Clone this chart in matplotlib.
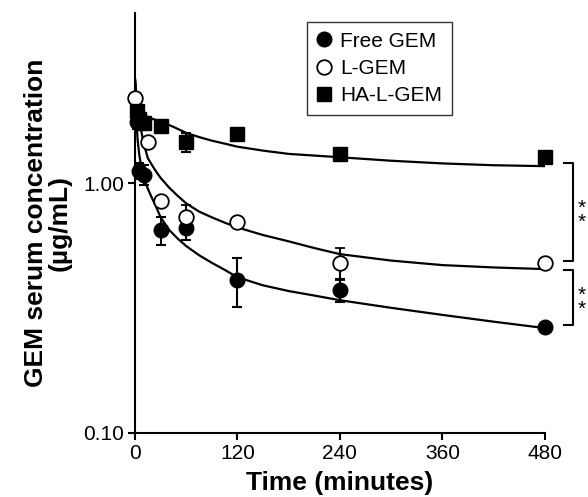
import numpy as np
import matplotlib

matplotlib.use("Agg")
import matplotlib.pyplot as plt
from matplotlib.ticker import FixedLocator, NullLocator

plt.rcParams["font.family"] = ["Liberation Sans", "DejaVu Sans"]

# measured points (mean, error)
time_free = [2, 5, 10, 30, 60, 120, 240, 480]
conc_free = [1.75, 1.12, 1.08, 0.65, 0.66, 0.41, 0.375, 0.265]
err_free = [0.1, 0.08, 0.1, 0.085, 0.07, 0.09, 0.04, 0.0]

time_lgem = [0, 15, 30, 60, 120, 240, 480]
conc_lgem = [2.2, 1.46, 0.85, 0.73, 0.70, 0.48, 0.48]
err_lgem = [0.0, 0.0, 0.0, 0.09, 0.0, 0.07, 0.0]

time_ha = [2, 5, 10, 30, 60, 120, 240, 480]
conc_ha = [1.95, 1.8, 1.74, 1.70, 1.46, 1.57, 1.31, 1.27]
err_ha = [0.1, 0.1, 0.1, 0.06, 0.13, 0.0, 0.06, 0.0]

# fitted curves
fit_time = [0, 1, 2, 3, 5, 7, 10, 15, 20, 25, 30, 40, 50, 60, 75, 90, 105, 120,
            150, 180, 210, 240, 300, 360, 420, 480]
fit_free = [2.6, 2.05, 1.7, 1.5, 1.3, 1.18, 1.06, 0.95, 0.87, 0.8, 0.73, 0.65,
            0.6, 0.56, 0.515, 0.48, 0.45, 0.42, 0.39, 0.37, 0.355, 0.34,
            0.317, 0.297, 0.279, 0.263]
fit_lgem = [2.6, 2.4, 2.2, 2.05, 1.8, 1.64, 1.45, 1.26, 1.18, 1.11, 1.05, 0.96,
            0.89, 0.83, 0.77, 0.73, 0.695, 0.665, 0.62, 0.585, 0.55, 0.52,
            0.49, 0.47, 0.46, 0.453]
fit_ha = [2.6, 2.35, 2.2, 2.1, 1.98, 1.92, 1.88, 1.84, 1.81, 1.79, 1.77, 1.71,
          1.65, 1.59, 1.53, 1.48, 1.44, 1.40, 1.35, 1.31, 1.29, 1.27, 1.23,
          1.20, 1.18, 1.17]

x_ticks = [0, 120, 240, 360, 480]
y_ticks = [0.1, 1.0]
y_ticklabels = ["0.10", "1.00"]

# significance brackets: (top, bottom) and where the star pair sits
brackets = [(1.2, 0.49), (0.45, 0.27)]
star_heights = [0.78, 0.35]

fig = plt.figure(figsize=(5.88, 4.97), dpi=100)
ax = fig.add_axes([0.2296, 0.1288, 0.697, 0.845])

ax.plot(fit_time, fit_free, color="black", lw=1.6, zorder=2)
ax.plot(fit_time, fit_lgem, color="black", lw=1.6, zorder=2)
ax.plot(fit_time, fit_ha, color="black", lw=1.6, zorder=2)

kw = dict(ecolor="black", elinewidth=1.5, capsize=3.5, capthick=1.5, ls="none",
          zorder=3, clip_on=False)
ax.errorbar(time_free, conc_free, yerr=err_free, fmt="o", ms=10.5,
            mfc="black", mec="black", label="Free GEM", **kw)
ax.errorbar(time_lgem, conc_lgem, yerr=err_lgem, fmt="o", ms=10.5,
            mfc="white", mec="black", mew=1.3, label="L-GEM", **kw)
ax.errorbar(time_ha, conc_ha, yerr=err_ha, fmt="s", ms=9.5,
            mfc="black", mec="black", label="HA-L-GEM", **kw)

ax.set_yscale("log")
ax.set_xlim(0, 480)
ax.set_ylim(0.1, 4.8)
ax.xaxis.set_major_locator(FixedLocator(x_ticks))
ax.yaxis.set_major_locator(FixedLocator(y_ticks))
ax.yaxis.set_minor_locator(NullLocator())
ax.set_yticklabels(y_ticklabels)

for side in ("top", "right"):
    ax.spines[side].set_visible(False)
for side in ("left", "bottom"):
    ax.spines[side].set_linewidth(1.5)
ax.tick_params(axis="both", direction="out", length=5, width=1.5,
               labelsize=15, pad=3)

ax.set_xlabel("Time (minutes)", fontsize=19, fontweight="bold", labelpad=6)
ax.set_ylabel("GEM serum concentration\n(µg/mL)", fontsize=19,
              fontweight="bold", labelpad=8, linespacing=1.0)

# brackets with stars outside the axes
for (top, bot), y in zip(brackets, star_heights):
    ax.plot([503, 513, 513, 503], [top, top, bot, bot], color="black",
            lw=1.5, clip_on=False)
    ax.annotate("*\n*", xy=(523, y), xytext=(0, -4), textcoords="offset points",
                ha="center", va="center", fontsize=15, linespacing=0.65,
                annotation_clip=False)

handles, labels = ax.get_legend_handles_labels()
handles = [h[0] for h in handles]
leg = ax.legend(handles, labels, loc="upper left", bbox_to_anchor=(0.42, 0.978),
                fontsize=15, frameon=True, fancybox=False, handlelength=0.7,
                handletextpad=0.45, borderpad=0.45, labelspacing=0.4,
                borderaxespad=0)
leg.get_frame().set_edgecolor("black")
leg.get_frame().set_linewidth(1.0)

fig.savefig("out.png", dpi=100)
